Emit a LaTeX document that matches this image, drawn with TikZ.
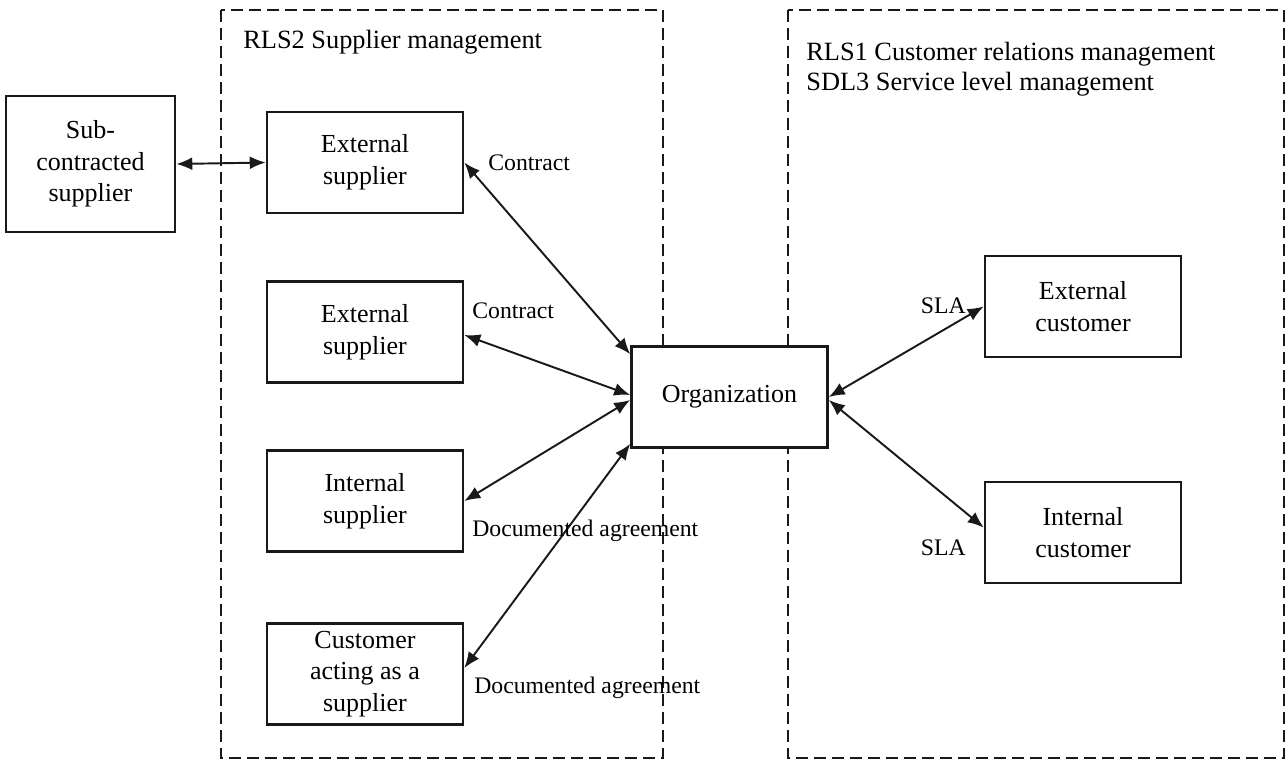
\documentclass[tikz,border=0pt]{standalone}
\usepackage{fontspec}
\setmainfont{Liberation Serif}
\usepackage{tikz}
\usetikzlibrary{arrows.meta, calc, positioning}
\tikzset{
  % Boxes
  org-box/.style={rectangle, draw=black!90, fill=white, line width=1.5pt, minimum width=3.92cm, minimum height=2.02cm, align=center, font=\fontsize{14.8}{18}\selectfont},
  sub-box/.style={org-box, minimum width=3.38cm, minimum height=2.72cm},
  area-box/.style={draw=black!90, line width=1.4pt, dash pattern=on 0.24cm off 0.12cm},
  % Links and labels
  org-link/.style={{Latex[length=0.32cm, width=0.26cm]}-{Latex[length=0.32cm, width=0.26cm]}, line width=1.1pt, black!90},
  link-label/.style={inner sep=0pt, font=\fontsize{13.5}{16}\selectfont},
  area-title/.style={inner sep=0pt, align=left, font=\fontsize{15}{17}\selectfont}
}
\begin{document}
\begin{tikzpicture}[x=0.02cm, y=-0.02cm]
    \useasboundingbox (0,0) rectangle (1287,760);

    % --- Dashed areas ---
    \draw[area-box] (221,10) rectangle (663,758);
    \draw[area-box] (788,10) rectangle (1284,758);
    \node[area-title, anchor=west] (rls2) at (243,42) {RLS2 Supplier management};
    \node[area-title, anchor=west] (rls1) at (806,69) {RLS1 Customer relations management\\SDL3 Service level management};

    % --- Suppliers ---
    \node[sub-box] (subsup) at (90.5,164) {Sub-\\contracted\\supplier};
    \node[org-box] (extsupA) at (365,162.5) {External\\supplier};
    \node[org-box] (extsupB) at (365,332) {External\\supplier};
    \node[org-box] (intsup) at (365,501) {Internal\\supplier};
    \node[org-box] (custsup) at (365,674) {Customer\\acting as a\\supplier};

    % --- Organization and customers ---
    \node[org-box] (org) at (729.5,397) {Organization};
    \node[org-box] (extcust) at (1083,306.5) {External\\customer};
    \node[org-box] (intcust) at (1083,532.5) {Internal\\customer};

    % --- Links ---
    \draw[org-link] (subsup.east) -- (extsupA.west);
    \draw[org-link] (extsupA.east) -- ([yshift=-0.18cm]org.north west);
    \draw[org-link] ([yshift=-0.06cm]extsupB.east) -- ([yshift=0.04cm]org.west);
    \draw[org-link] (intsup.east) -- ([yshift=-0.06cm]org.west);
    \draw[org-link] ([yshift=0.12cm]custsup.east) -- ([yshift=0.1cm]org.south west);
    \draw[org-link] (org.east) -- (extcust.west);
    \draw[org-link] ([yshift=-0.06cm]org.east) -- ([yshift=0.1cm]intcust.west);

    % --- Labels ---
    \node[link-label, anchor=west] (lblA) at (488,163) {Contract};
    \node[link-label, anchor=west] (lblB) at (472,311) {Contract};
    \node[link-label, anchor=west] (lblC) at (472,531) {Documented agreement};
    \node[link-label, anchor=west] (lblD) at (474,688) {Documented agreement};
    \node[link-label, anchor=east] (lblE) at (966,306) {SLA};
    \node[link-label, anchor=east] (lblF) at (966,548) {SLA};
\end{tikzpicture}
\end{document}
